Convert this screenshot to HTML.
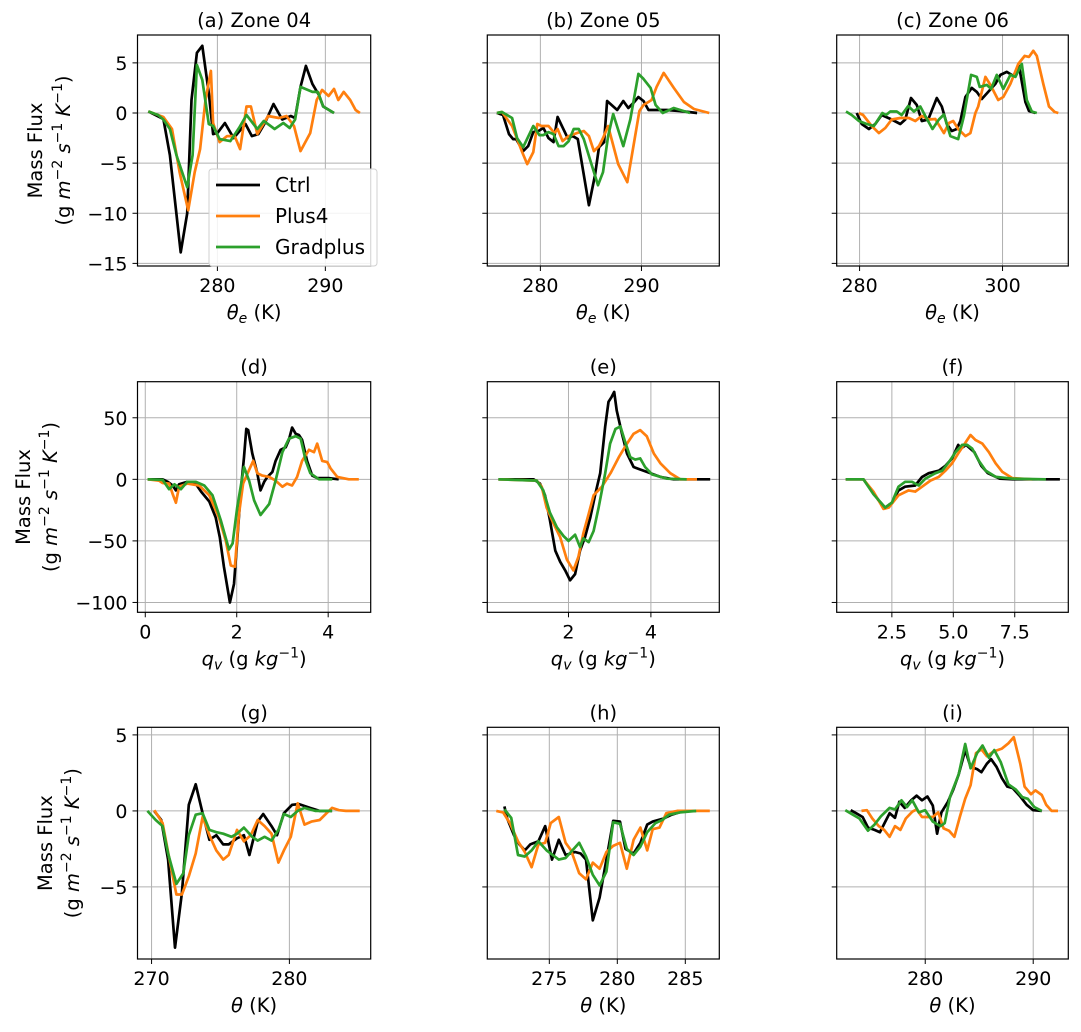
<!DOCTYPE html>
<html><head><meta charset="utf-8"><style>
body{margin:0;background:#fff}
svg text{font-family:"DejaVu Sans","Liberation Sans",sans-serif;fill:#000}
</style></head><body>
<svg id="fig" width="1081" height="1027" xmlns="http://www.w3.org/2000/svg"></svg>
<script>
// ---- data: [x, massFlux] ----
const a_ctrl=[[273.6,0.16],[275.0,-0.6],[275.6,-4.2],[276.6,-13.9],[277.2,-10],[277.6,1.3],[278.1,6],[278.6,6.7],[279.2,2],[279.6,-2.1],[280,-2],[280.7,-1],[281.5,-2.5],[282.6,-1.1],[283.2,-2.3],[283.8,-2.1],[284.4,-1],[285.2,0.9],[286,-0.65],[286.8,-0.3],[287.2,-0.5],[287.7,2.6],[288.2,4.7],[288.8,2.9],[289.4,1.8],[289.8,0.65],[290.8,0]];
const a_plus4=[[273.6,0.16],[275,-0.4],[275.8,-1.6],[276.5,-5.9],[277.3,-9.7],[277.9,-5.9],[278.4,-3.6],[278.9,1.3],[279.4,4.2],[279.6,-1],[280.2,-2.9],[280.9,-2.3],[281.6,-2.3],[282.1,-3.6],[282.7,0.65],[283.1,0.65],[283.7,-2.1],[284.7,-0.3],[285.7,-0.5],[286.4,-0.3],[287.1,-1.3],[287.7,-3.8],[288.6,-2],[289.2,1.3],[289.7,2.3],[290.3,1.7],[290.8,2.4],[291.2,1.3],[291.7,2.1],[292.3,1.3],[292.8,0.3],[293.2,0]];
const a_grad=[[273.6,0.16],[274.5,-0.2],[275.0,-0.65],[275.6,-1.6],[276.2,-4.2],[277.2,-7.4],[277.7,-4.2],[278.1,4.8],[278.6,3.3],[279.2,-1.1],[279.6,-1.3],[280.2,-2.6],[281.2,-2.8],[282,-1.5],[282.7,-0.2],[283.7,-1.6],[284.3,-0.8],[285.3,-1.6],[286.1,-1],[286.7,-1.5],[287.2,-0.65],[287.7,2.6],[288.8,2.1],[289.3,2.1],[289.8,0.65],[290.8,0]];
const b_ctrl=[[275.7,0],[276.3,-0.2],[276.9,-2.1],[277.3,-2.6],[277.6,-2.6],[278.3,-3.8],[278.8,-3.3],[279.3,-1.9],[279.8,-1.8],[280.3,-1.5],[280.8,-2.5],[281.3,-2.9],[281.7,-0.4],[282.7,-2.5],[283.2,-2.3],[283.7,-2.6],[284.8,-9.2],[285.4,-6.2],[285.8,-3.4],[286.3,-2.9],[286.6,1.2],[287.6,0.3],[288.2,1.2],[288.7,0.5],[289.2,1.0],[289.7,1.6],[290.2,1.2],[290.7,0.3],[291.4,0.3],[292.5,0.3],[293.8,0.2],[295.5,0]];
const b_plus4=[[275.7,0],[276.2,0.1],[277.2,-1.3],[278.2,-3.9],[278.7,-5.1],[279.3,-3.9],[279.7,-1.1],[280.1,-1.3],[280.8,-1.3],[281.4,-2],[281.7,-1.6],[282.2,-2.8],[282.8,-2.3],[283.6,-2],[284.3,-1.8],[284.8,-2.3],[285.3,-3.8],[285.8,-3.3],[286.2,-2.5],[286.7,-1.3],[287.7,-5.1],[288.6,-6.9],[289.8,0.2],[290.2,0.8],[291,1.3],[291.5,2.6],[292.2,4.0],[293.2,2.5],[294.2,1.1],[295.2,0.4],[296.7,0]];
const b_grad=[[275.7,0],[276.2,0.1],[277.2,-0.5],[277.7,-2.5],[278.3,-3.4],[279.3,-1.3],[279.9,-2.2],[280.3,-2.2],[280.8,-1.9],[281.3,-2.1],[281.8,-3.3],[282.3,-3.3],[282.8,-2.8],[283.3,-1.6],[283.8,-1.6],[284.3,-2.6],[284.9,-4.6],[285.7,-7.2],[286.2,-5.9],[286.7,-2.3],[287.2,-0.1],[288.2,-3.3],[288.9,-0.65],[289.7,3.9],[290.2,3.4],[290.9,2.5],[291.4,0.8],[292.1,0],[293.2,0.5],[294.8,0]];
const c_ctrl=[[279.6,0],[280.3,-1.1],[281.3,-1.6],[282.2,-1.1],[283.1,-0.2],[284.5,-0.65],[285.7,-1.1],[286.4,-0.65],[287.2,1.5],[288,0.8],[288.7,-0.8],[289.6,-0.65],[290.8,1.5],[291.5,0.65],[292.2,-1.1],[292.9,-1.8],[293.6,-1.6],[294.1,-0.8],[294.8,1.6],[295.7,2.5],[296.4,2.1],[297.1,1.4],[298,2.1],[299,2.9],[299.7,3.8],[300.6,4.1],[301.5,3.7],[302.3,4.7],[303.2,1.1],[303.7,0.2],[304.6,0]];
const c_plus4=[[279.9,0],[280.5,-0.2],[281.7,-1.3],[282.7,-2],[283.6,-1.5],[284.5,-0.65],[285.7,-0.5],[286.9,-0.5],[287.8,-0.8],[288.7,-0.3],[289.7,-0.65],[290.6,-0.6],[291.8,-2],[292.5,-1],[293.1,-0.8],[293.8,-1.6],[294.8,-2.3],[295.5,-2],[296.2,0],[296.6,0.65],[297.6,3.6],[298.3,2.8],[299.4,1.3],[300.1,1.6],[301.1,2.9],[302.2,4.9],[303.1,5.7],[303.7,5.6],[304.3,6.2],[304.8,5.7],[305.7,2.9],[306.5,0.65],[307.3,0.1],[307.8,0]];
const c_grad=[[278.1,0.15],[278.9,-0.2],[279.9,-0.8],[281,-1.1],[282,-1.3],[283.2,0],[283.7,-0.2],[284.3,0.15],[285.2,0.15],[285.9,-0.2],[286.8,0.7],[287.6,0.15],[288.5,0.65],[289.2,-0.3],[290.2,-1.6],[291.1,-0.65],[291.8,-0.15],[292.7,-2.3],[293.8,-2.6],[294.6,-0.3],[295.6,3.8],[296.4,3.6],[296.8,2.6],[297.8,2.8],[298.4,2.4],[299.2,3.8],[300.1,2.4],[301.1,3.8],[301.8,3.6],[302.7,4.9],[303.4,1.3],[304.1,0.15],[304.8,0]];
const d_ctrl=[[0.05,0],[0.38,0],[0.49,-2],[0.6,-5],[0.67,-9],[0.74,-4],[0.92,-2],[1.1,-3.5],[1.22,-10],[1.4,-18],[1.54,-31],[1.63,-47],[1.72,-71],[1.85,-100],[1.94,-85],[2.01,-50],[2.09,-9],[2.16,18],[2.21,41],[2.25,40],[2.34,21],[2.45,5],[2.52,-9],[2.6,-2],[2.67,2],[2.78,6],[2.85,15],[2.96,24],[3.07,26],[3.14,32],[3.21,42],[3.29,37],[3.36,36],[3.43,32],[3.54,15],[3.65,3],[3.76,1],[4.01,1],[4.23,0]];
const d_plus4=[[0.05,0],[0.3,-1],[0.38,-3],[0.52,-3.5],[0.6,-12],[0.67,-19],[0.74,-6],[0.92,-3.5],[1.18,-5],[1.4,-13],[1.61,-31],[1.76,-50],[1.87,-70],[1.96,-71],[2.05,-28],[2.14,-3.5],[2.25,6],[2.36,15],[2.45,5],[2.56,3],[2.71,2],[2.85,-1],[3.0,-6],[3.1,-3.5],[3.21,-5],[3.32,2],[3.43,15],[3.58,24],[3.69,22],[3.76,29],[3.87,15],[3.98,14],[4.05,9],[4.2,2],[4.45,0],[4.67,0]];
const d_grad=[[0.05,0],[0.38,-0.5],[0.52,-8],[0.64,-4],[0.78,-8],[0.92,-2],[1.1,-2],[1.29,-5],[1.47,-13],[1.65,-33],[1.83,-57],[1.91,-52],[2.01,-23],[2.16,10],[2.27,-1],[2.38,-17],[2.52,-29],[2.71,-20],[2.85,-1],[3.0,22],[3.14,33],[3.29,35],[3.4,33],[3.51,15],[3.61,5],[3.8,0],[4.09,0]];
const e_ctrl=[[0.3,0],[1.15,0],[1.31,-3.5],[1.43,-13],[1.55,-33],[1.68,-58],[1.8,-67],[1.92,-74],[2.04,-82],[2.16,-77],[2.28,-58],[2.4,-47],[2.53,-31],[2.65,-12],[2.77,5],[2.89,43],[2.97,63],[3.05,67],[3.11,71],[3.17,56],[3.3,37],[3.42,21],[3.58,10],[3.74,8],[3.9,6],[4.23,2],[4.55,0],[5.44,0]];
const e_plus4=[[0.3,0],[1.23,-1],[1.35,-6],[1.47,-23],[1.64,-36],[1.8,-47],[1.96,-65],[2.12,-74],[2.24,-63],[2.36,-44],[2.49,-28],[2.61,-13],[2.81,-6],[3.02,5],[3.22,18],[3.42,29],[3.58,37],[3.74,40],[3.9,35],[4.07,21],[4.23,13],[4.47,5],[4.71,0],[5.12,0]];
const e_grad=[[0.3,0],[1.23,-1],[1.39,-9],[1.55,-27],[1.72,-39],[1.88,-46],[2.0,-50],[2.16,-45],[2.28,-55],[2.36,-48],[2.49,-51],[2.61,-42],[2.73,-23],[2.89,5],[3.01,29],[3.14,41],[3.26,43],[3.38,30],[3.5,18],[3.62,16],[3.74,17],[3.86,10],[4.03,4],[4.39,0.5],[4.87,0]];
const f_ctrl=[[0.62,0],[1.34,0],[1.68,-9],[1.96,-17],[2.23,-23],[2.5,-19],[2.77,-9],[3.04,-6],[3.45,-5],[3.73,2],[4.0,5],[4.41,7],[4.68,11],[4.95,17],[5.2,28],[5.3,25],[5.52,28],[5.86,22],[6.14,11],[6.41,5],[6.89,0.5],[7.43,0],[9.34,0]];
const f_plus4=[[0.62,0],[1.34,0],[1.75,-10],[2.16,-24],[2.37,-23],[2.77,-13],[3.18,-9],[3.45,-10],[3.73,-6],[4.07,-1],[4.41,2],[4.68,7],[4.95,13],[5.23,22],[5.5,30],[5.7,36],[5.9,32],[6.18,29],[6.45,22],[6.72,13],[7.0,6],[7.4,1],[8.22,0]];
const f_grad=[[0.62,0],[1.34,0],[1.75,-12],[2.23,-23],[2.5,-19],[2.77,-6],[3.04,-2],[3.32,-2],[3.59,-5],[3.86,0.5],[4.27,5],[4.55,7],[4.82,14],[5.09,22],[5.36,28],[5.57,28],[5.77,25],[6.04,15],[6.32,7],[6.73,2],[7.4,0.5],[8.77,0]];
const g_ctrl=[[270.2,0],[270.7,-0.6],[271.2,-3.2],[271.7,-9],[272.2,-5.4],[272.7,0.4],[273.2,1.75],[273.7,-0.15],[274.2,-1.9],[274.7,-1.6],[275.2,-2.2],[275.6,-2.2],[276.2,-1.8],[276.7,-1.6],[277.1,-2.9],[277.7,-0.7],[278.1,-0.2],[278.7,-1],[279.1,-1.6],[279.6,-0.15],[280.2,0.4],[280.7,0.45],[281.5,0.2],[282.2,0],[283.1,0]];
const g_plus4=[[270.2,0.05],[270.8,-0.8],[271.3,-3.2],[271.8,-5.5],[272.2,-5.5],[272.7,-4.3],[273.2,-2.8],[273.7,-0.4],[274.2,-1.6],[274.7,-2.6],[275.2,-3.2],[275.6,-2.9],[276.2,-1.25],[276.7,-2],[277.2,-1.6],[277.7,-0.6],[278.2,-1],[278.7,-1.5],[279.2,-3.4],[279.6,-2.6],[280.1,-1.7],[280.6,0.5],[281.1,-0.9],[281.6,-0.7],[282.2,-0.6],[282.7,-0.15],[283.1,0.2],[283.6,0.05],[284.1,0],[285.1,0]];
const g_grad=[[269.7,0],[270.3,-0.6],[270.8,-1],[271.2,-2.8],[271.8,-4.8],[272.3,-4.1],[272.7,-1.6],[273.2,-0.25],[273.7,-0.15],[274.2,-1.25],[274.7,-1.4],[275.2,-1.5],[275.8,-1.7],[276.2,-1.5],[276.7,-1.1],[277.3,-1.7],[277.7,-1.95],[278.2,-1.7],[278.7,-1.95],[279.2,-1.25],[279.6,-0.2],[280.1,-0.4],[280.6,0],[281.1,0.2],[281.9,0],[283.1,0]];
const h_ctrl=[[271.7,0.3],[271.9,-0.5],[272.4,-1.6],[272.8,-2.2],[273.2,-2.6],[273.6,-2.2],[274.2,-2],[274.7,-1],[275.2,-3.2],[275.7,-1.9],[276.2,-2.9],[276.9,-2.7],[277.3,-2.8],[277.7,-3.2],[278.2,-7.2],[278.7,-5.7],[279.2,-3.2],[279.7,-0.65],[280.2,-0.7],[280.6,-2.5],[281.2,-2.8],[281.7,-2.1],[282.2,-0.9],[282.6,-0.7],[283.4,-0.5],[284,-0.25],[284.9,0],[285.8,0]];
const h_plus4=[[271.1,0],[271.6,-0.1],[272.1,-0.8],[272.7,-2],[273.2,-2.7],[273.7,-3.7],[274.2,-2.2],[274.7,-2.1],[275.1,-0.8],[275.7,-0.4],[276.2,-2.1],[276.6,-2.6],[277.2,-4.1],[277.7,-4.5],[278.2,-3.4],[278.7,-3.8],[279.2,-2.7],[279.7,-2.3],[280.2,-2.1],[280.7,-3.8],[281.2,-1.9],[281.7,-1.1],[282.2,-2.6],[282.6,-1.2],[283.1,-1.1],[283.6,-0.15],[284.4,0],[285.1,0],[286.8,0]];
const h_grad=[[271.7,0.1],[272.2,-0.45],[272.7,-2.9],[273.2,-3],[273.7,-2.6],[274.2,-2],[274.8,-2.6],[275.7,-3.2],[276.2,-3.1],[276.7,-2.6],[277.2,-2.1],[277.7,-3],[278.2,-4.2],[278.7,-4.9],[279.2,-4],[279.7,-0.75],[280.2,-0.85],[280.7,-2.5],[281.2,-2.9],[281.7,-2.35],[282.2,-1.4],[282.8,-0.8],[283.3,-0.6],[283.8,-0.25],[284.6,-0.1],[285.8,0]];
const i_ctrl=[[273.1,0.05],[273.6,-0.15],[274.2,-0.4],[274.7,-1.1],[275.3,-1.25],[275.8,-1.4],[276.3,-0.7],[276.7,-0.15],[277.2,-0.45],[277.6,0.6],[278.1,0.2],[278.7,0.7],[279.2,1],[279.7,0.7],[280.2,0.95],[280.7,0.35],[281.1,-1.5],[281.5,-0.1],[282.1,0.6],[282.6,1.4],[283.1,2.4],[283.7,4],[284.2,2.9],[284.8,2.75],[285.2,2.55],[285.7,3.1],[286.1,3.4],[286.6,2.9],[287.1,2.15],[287.6,1.6],[288.1,1.5],[288.8,0.95],[289.4,0.4],[290,0.05],[290.8,0]];
const i_plus4=[[274.1,0],[274.6,0.05],[275.1,-0.5],[275.7,-1],[276.2,-1.25],[276.7,-1.7],[277.2,-1],[277.7,-1.25],[278.2,-0.5],[278.8,-0.05],[279.2,0.1],[279.7,-0.4],[280.2,-0.4],[280.7,-0.4],[281.2,-0.1],[281.7,-1.15],[282.2,-1.3],[282.7,-1.7],[283.2,-0.4],[283.7,0.8],[284.2,1.7],[284.7,3.8],[285.2,4.05],[285.7,3.6],[286.3,3.9],[287.1,4.1],[287.7,4.45],[288.2,4.85],[288.8,3.1],[289.2,1.6],[289.8,1.1],[290.2,1.35],[290.8,1.05],[291.2,0.4],[291.7,0],[292.3,0]];
const i_grad=[[272.6,0.05],[273.3,-0.25],[273.9,-0.5],[274.7,-1.3],[275.3,-0.9],[275.9,-0.35],[276.7,0.2],[277.2,0.1],[277.8,0.7],[278.3,0.25],[278.8,0.7],[279.4,-0.1],[280,0.05],[280.7,-0.7],[281.4,-1],[281.8,-0.8],[282.3,0.95],[283.1,2.4],[283.7,4.4],[284.2,2.8],[284.8,3.8],[285.3,4.3],[285.9,3.5],[286.4,4],[287,3.2],[287.7,1.75],[288.4,1.4],[289,0.9],[289.5,0.8],[290.1,0.25],[290.8,0]];
const seriesNames=["Ctrl","Plus4","Gradplus"];
const panelTitles=["(a) Zone 04","(b) Zone 05","(c) Zone 06","(d)","(e)","(f)","(g)","(h)","(i)"];
const xTicks=[[280,290],[280,290],[280,300],[0,2,4],[2,4],[2.5,5,7.5],[270,280],[275,280,285],[280,290]];
const xTickLabels=[["280","290"],["280","290"],["280","300"],["0","2","4"],["2","4"],["2.5","5.0","7.5"],["270","280"],["275","280","285"],["280","290"]];
const yTicksRow=[[-15,-10,-5,0,5],[-100,-50,0,50],[-5,0,5]];
const yTickLabelsRow=[["−15","−10","−5","0","5"],["−100","−50","0","50"],["−5","0","5"]];
const xDomains=[[272.6,294.2],[274.75,297.7],[276.8,309.2],[-0.17,4.93],[0.03,5.66],[0.255,9.68],[268.98,285.9],[270.44,287.5],[271.8,293.25]];
const yDomains=[[-15.26,7.78],[-108,79.3],[-9.74,5.5]];
const panelSeries=[[a_ctrl,a_plus4,a_grad],[b_ctrl,b_plus4,b_grad],[c_ctrl,c_plus4,c_grad],[d_ctrl,d_plus4,d_grad],[e_ctrl,e_plus4,e_grad],[f_ctrl,f_plus4,f_grad],[g_ctrl,g_plus4,g_grad],[h_ctrl,h_plus4,h_grad],[i_ctrl,i_plus4,i_grad]];

// ---- layout ----
const colors=["#000000","#ff7f0e","#2ca02c"];
const colX=[[137.5,370.7],[487.3,719.3],[836.7,1068.3]];
const rowY=[[35,266],[381.7,612.3],[727.3,959]];
const xLabelKind=["te","te","te","qv","qv","qv","th","th","th"];
const NS="http://www.w3.org/2000/svg";
const svg=document.getElementById("fig");
function mk(tag,attrs,parent){const e=document.createElementNS(NS,tag);for(const k in attrs)e.setAttribute(k,attrs[k]);(parent||svg).appendChild(e);return e;}

for(let p=0;p<9;p++){
  const r=Math.floor(p/3),c=p%3;
  const [L,R]=colX[c],[T,B]=rowY[r];
  const [x0,x1]=xDomains[p],[y0,y1]=yDomains[r];
  const sx=v=>L+(v-x0)/(x1-x0)*(R-L);
  const sy=v=>B-(v-y0)/(y1-y0)*(B-T);
  const g=mk("g",{});
  
  
  xTicks[p].forEach((t,k)=>{
    const gl=mk("line",{x1:sx(t),x2:sx(t),y1:T,y2:B,stroke:"#b0b0b0","stroke-width":1},g);
    
    
    const tk=mk("line",{x1:sx(t),x2:sx(t),y1:B,y2:B+5,stroke:"#000","stroke-width":1},g);
    
    
    const tl=mk("text",{x:sx(t),y:B+26,"text-anchor":"middle","font-size":19},g);
    tl.textContent=xTickLabels[p][k];
    
    
  });
  yTicksRow[r].forEach((t,k)=>{
    const gl=mk("line",{x1:L,x2:R,y1:sy(t),y2:sy(t),stroke:"#b0b0b0","stroke-width":1},g);
    
    
    const tk=mk("line",{x1:L-5,x2:L,y1:sy(t),y2:sy(t),stroke:"#000","stroke-width":1},g);
    
    
    if(c===0){
      const tl=mk("text",{x:L-10,y:sy(t)+7,"text-anchor":"end","font-size":19},g);
      tl.textContent=yTickLabelsRow[r][k];
      
      
    }
  });
  const cp=mk("clipPath",{id:"cp"+p},g);
  mk("rect",{x:L,y:T,width:R-L,height:B-T},cp);
  panelSeries[p].forEach((pts,s)=>{
    const d=pts.map((q,i)=>(i?"L":"M")+sx(q[0]).toFixed(1)+","+sy(q[1]).toFixed(1)).join("");
    const pl=mk("path",{d:d,fill:"none",stroke:colors[s],"stroke-width":2.7,"stroke-linejoin":"round","clip-path":"url(#cp"+p+")"},g);
    
    
  });
  const fr=mk("rect",{x:L,y:T,width:R-L,height:B-T,fill:"none",stroke:"#000","stroke-width":1.2},g);
  
  
  const tt=mk("text",{x:(L+R)/2,y:T-8,"text-anchor":"middle","font-size":19.5},g);
  tt.textContent=panelTitles[p];
  
  
  const xl=mk("text",{x:(L+R)/2,y:B+53,"text-anchor":"middle","font-size":19.5},g);
  
  
  const k=xLabelKind[p];
  if(k==="te"){xl.innerHTML='<tspan font-style="italic">θ</tspan><tspan font-style="italic" font-size="14" dy="4">e</tspan><tspan dy="-4"> (K)</tspan>';}
  else if(k==="qv"){xl.innerHTML='<tspan font-style="italic">q</tspan><tspan font-style="italic" font-size="14" dy="4">v</tspan><tspan dy="-4"> (g </tspan><tspan font-style="italic">kg</tspan><tspan font-size="14" dy="-8">−1</tspan><tspan dy="8">)</tspan>';}
  else {xl.innerHTML='<tspan font-style="italic">θ</tspan> (K)';}
  if(c===0){
    const ylx=[[35,63],[23,50],[45,72]][r];
    const cy=(T+B)/2;
    const y1t=mk("text",{x:ylx[0],y:cy,"text-anchor":"middle","font-size":19.5,transform:`rotate(-90 ${ylx[0]} ${cy})`,dy:7},g);
    y1t.textContent="Mass Flux";
    
    
    const y2t=mk("text",{x:ylx[1],y:cy,"text-anchor":"middle","font-size":19.5,transform:`rotate(-90 ${ylx[1]} ${cy})`,dy:7},g);
    y2t.innerHTML='(g <tspan font-style="italic">m</tspan><tspan font-size="14" dy="-8">−2</tspan><tspan dy="8"> </tspan><tspan font-style="italic">s</tspan><tspan font-size="14" dy="-8">−1</tspan><tspan dy="8"> </tspan><tspan font-style="italic">K</tspan><tspan font-size="14" dy="-8">−1</tspan><tspan dy="8">)</tspan>';
    
    
  }
}
const lg=mk("g",{});


const lb=mk("rect",{x:209,y:169,width:168,height:97,rx:3,fill:"#fff","fill-opacity":0.85,stroke:"#d0d0d0","stroke-width":1},lg);


seriesNames.forEach((n,s)=>{
  const yy=185+s*31;
  const ll=mk("line",{x1:216,x2:260,y1:yy,y2:yy,stroke:colors[s],"stroke-width":2.8},lg);
  
  
  const lt=mk("text",{x:275,y:yy+7,"font-size":20},lg);
  lt.textContent=n;
  
  
});
</script>
</body></html>
